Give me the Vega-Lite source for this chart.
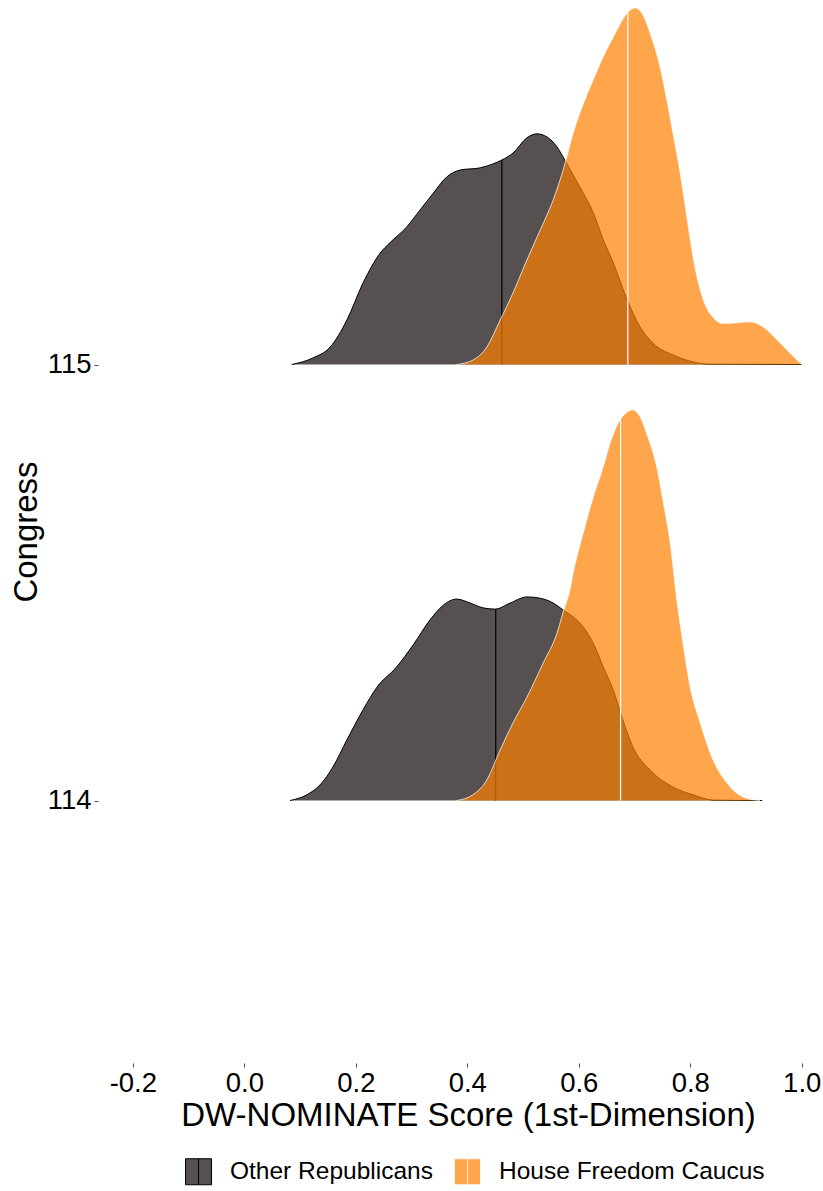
{
  "$schema": "https://vega.github.io/schema/vega-lite/v6.json",
  "width": 717,
  "height": 1063,
  "autosize": {"type": "none"},
  "padding": {"left": 98, "top": 0, "right": 8, "bottom": 128},
  "background": "white",
  "config": {
    "view": {"stroke": null},
    "font": "Liberation Sans",
    "locale": {"number": {"decimal": ".", "thousands": ",", "grouping": [3], "currency": ["$", ""], "minus": "-"}},
    "legend": {
      "title": null,
      "orient": "none",
      "legendX": 87,
      "legendY": 1158,
      "direction": "horizontal",
      "symbolType": "M-1,-1H1V1H-1ZM0,-1V1",
      "symbolSize": 676,
      "symbolStrokeWidth": 1,
      "labelFontSize": 24.5,
      "labelColor": "#000000",
      "labelOffset": 18,
      "columnPadding": 19,
      "padding": 0,
      "labelLimit": 500
    }
  },
  "datasets": {
    "dens": [
      {"c": 115, "g": "Other Republicans", "x": 0.085, "top": 115.000},
      {"c": 115, "g": "Other Republicans", "x": 0.123, "top": 115.015},
      {"c": 115, "g": "Other Republicans", "x": 0.154, "top": 115.040},
      {"c": 115, "g": "Other Republicans", "x": 0.184, "top": 115.102},
      {"c": 115, "g": "Other Republicans", "x": 0.213, "top": 115.187},
      {"c": 115, "g": "Other Republicans", "x": 0.244, "top": 115.256},
      {"c": 115, "g": "Other Republicans", "x": 0.261, "top": 115.279},
      {"c": 115, "g": "Other Republicans", "x": 0.291, "top": 115.315},
      {"c": 115, "g": "Other Republicans", "x": 0.315, "top": 115.354},
      {"c": 115, "g": "Other Republicans", "x": 0.339, "top": 115.393},
      {"c": 115, "g": "Other Republicans", "x": 0.363, "top": 115.430},
      {"c": 115, "g": "Other Republicans", "x": 0.387, "top": 115.446},
      {"c": 115, "g": "Other Republicans", "x": 0.423, "top": 115.451},
      {"c": 115, "g": "Other Republicans", "x": 0.446, "top": 115.460},
      {"c": 115, "g": "Other Republicans", "x": 0.462, "top": 115.469},
      {"c": 115, "g": "Other Republicans", "x": 0.482, "top": 115.485},
      {"c": 115, "g": "Other Republicans", "x": 0.507, "top": 115.520},
      {"c": 115, "g": "Other Republicans", "x": 0.525, "top": 115.529},
      {"c": 115, "g": "Other Republicans", "x": 0.543, "top": 115.522},
      {"c": 115, "g": "Other Republicans", "x": 0.561, "top": 115.499},
      {"c": 115, "g": "Other Republicans", "x": 0.575, "top": 115.469},
      {"c": 115, "g": "Other Republicans", "x": 0.602, "top": 115.407},
      {"c": 115, "g": "Other Republicans", "x": 0.626, "top": 115.348},
      {"c": 115, "g": "Other Republicans", "x": 0.644, "top": 115.286},
      {"c": 115, "g": "Other Republicans", "x": 0.662, "top": 115.233},
      {"c": 115, "g": "Other Republicans", "x": 0.687, "top": 115.148},
      {"c": 115, "g": "Other Republicans", "x": 0.710, "top": 115.086},
      {"c": 115, "g": "Other Republicans", "x": 0.733, "top": 115.049},
      {"c": 115, "g": "Other Republicans", "x": 0.769, "top": 115.022},
      {"c": 115, "g": "Other Republicans", "x": 0.805, "top": 115.006},
      {"c": 115, "g": "Other Republicans", "x": 0.832, "top": 115.001},
      {"c": 115, "g": "Other Republicans", "x": 0.900, "top": 115.0005},
      {"c": 115, "g": "Other Republicans", "x": 1.000, "top": 115.000},
      {"c": 115, "g": "House Freedom Caucus", "x": 0.381, "top": 115.000},
      {"c": 115, "g": "House Freedom Caucus", "x": 0.410, "top": 115.010},
      {"c": 115, "g": "House Freedom Caucus", "x": 0.435, "top": 115.040},
      {"c": 115, "g": "House Freedom Caucus", "x": 0.459, "top": 115.102},
      {"c": 115, "g": "House Freedom Caucus", "x": 0.482, "top": 115.164},
      {"c": 115, "g": "House Freedom Caucus", "x": 0.507, "top": 115.240},
      {"c": 115, "g": "House Freedom Caucus", "x": 0.531, "top": 115.309},
      {"c": 115, "g": "House Freedom Caucus", "x": 0.554, "top": 115.377},
      {"c": 115, "g": "House Freedom Caucus", "x": 0.572, "top": 115.446},
      {"c": 115, "g": "House Freedom Caucus", "x": 0.590, "top": 115.531},
      {"c": 115, "g": "House Freedom Caucus", "x": 0.611, "top": 115.607},
      {"c": 115, "g": "House Freedom Caucus", "x": 0.626, "top": 115.653},
      {"c": 115, "g": "House Freedom Caucus", "x": 0.641, "top": 115.698},
      {"c": 115, "g": "House Freedom Caucus", "x": 0.662, "top": 115.751},
      {"c": 115, "g": "House Freedom Caucus", "x": 0.687, "top": 115.806},
      {"c": 115, "g": "House Freedom Caucus", "x": 0.701, "top": 115.818},
      {"c": 115, "g": "House Freedom Caucus", "x": 0.715, "top": 115.802},
      {"c": 115, "g": "House Freedom Caucus", "x": 0.728, "top": 115.760},
      {"c": 115, "g": "House Freedom Caucus", "x": 0.746, "top": 115.682},
      {"c": 115, "g": "House Freedom Caucus", "x": 0.758, "top": 115.607},
      {"c": 115, "g": "House Freedom Caucus", "x": 0.769, "top": 115.531},
      {"c": 115, "g": "House Freedom Caucus", "x": 0.782, "top": 115.439},
      {"c": 115, "g": "House Freedom Caucus", "x": 0.794, "top": 115.338},
      {"c": 115, "g": "House Freedom Caucus", "x": 0.805, "top": 115.247},
      {"c": 115, "g": "House Freedom Caucus", "x": 0.823, "top": 115.150},
      {"c": 115, "g": "House Freedom Caucus", "x": 0.841, "top": 115.108},
      {"c": 115, "g": "House Freedom Caucus", "x": 0.859, "top": 115.094},
      {"c": 115, "g": "House Freedom Caucus", "x": 0.884, "top": 115.096},
      {"c": 115, "g": "House Freedom Caucus", "x": 0.907, "top": 115.098},
      {"c": 115, "g": "House Freedom Caucus", "x": 0.931, "top": 115.086},
      {"c": 115, "g": "House Freedom Caucus", "x": 0.956, "top": 115.056},
      {"c": 115, "g": "House Freedom Caucus", "x": 0.979, "top": 115.026},
      {"c": 115, "g": "House Freedom Caucus", "x": 1.000, "top": 115.000},
      {"c": 114, "g": "Other Republicans", "x": 0.082, "top": 114.000},
      {"c": 114, "g": "Other Republicans", "x": 0.112, "top": 114.013},
      {"c": 114, "g": "Other Republicans", "x": 0.136, "top": 114.036},
      {"c": 114, "g": "Other Republicans", "x": 0.159, "top": 114.077},
      {"c": 114, "g": "Other Republicans", "x": 0.184, "top": 114.139},
      {"c": 114, "g": "Other Republicans", "x": 0.213, "top": 114.208},
      {"c": 114, "g": "Other Republicans", "x": 0.238, "top": 114.260},
      {"c": 114, "g": "Other Republicans", "x": 0.273, "top": 114.306},
      {"c": 114, "g": "Other Republicans", "x": 0.303, "top": 114.357},
      {"c": 114, "g": "Other Republicans", "x": 0.333, "top": 114.414},
      {"c": 114, "g": "Other Republicans", "x": 0.357, "top": 114.448},
      {"c": 114, "g": "Other Republicans", "x": 0.381, "top": 114.462},
      {"c": 114, "g": "Other Republicans", "x": 0.405, "top": 114.453},
      {"c": 114, "g": "Other Republicans", "x": 0.428, "top": 114.442},
      {"c": 114, "g": "Other Republicans", "x": 0.450, "top": 114.439},
      {"c": 114, "g": "Other Republicans", "x": 0.477, "top": 114.453},
      {"c": 114, "g": "Other Republicans", "x": 0.507, "top": 114.467},
      {"c": 114, "g": "Other Republicans", "x": 0.531, "top": 114.464},
      {"c": 114, "g": "Other Republicans", "x": 0.554, "top": 114.453},
      {"c": 114, "g": "Other Republicans", "x": 0.572, "top": 114.437},
      {"c": 114, "g": "Other Republicans", "x": 0.590, "top": 114.421},
      {"c": 114, "g": "Other Republicans", "x": 0.608, "top": 114.398},
      {"c": 114, "g": "Other Republicans", "x": 0.626, "top": 114.361},
      {"c": 114, "g": "Other Republicans", "x": 0.644, "top": 114.306},
      {"c": 114, "g": "Other Republicans", "x": 0.662, "top": 114.253},
      {"c": 114, "g": "Other Republicans", "x": 0.679, "top": 114.185},
      {"c": 114, "g": "Other Republicans", "x": 0.697, "top": 114.123},
      {"c": 114, "g": "Other Republicans", "x": 0.728, "top": 114.070},
      {"c": 114, "g": "Other Republicans", "x": 0.769, "top": 114.031},
      {"c": 114, "g": "Other Republicans", "x": 0.805, "top": 114.013},
      {"c": 114, "g": "Other Republicans", "x": 0.841, "top": 114.001},
      {"c": 114, "g": "Other Republicans", "x": 0.929, "top": 114.000},
      {"c": 114, "g": "House Freedom Caucus", "x": 0.381, "top": 114.000},
      {"c": 114, "g": "House Freedom Caucus", "x": 0.410, "top": 114.013},
      {"c": 114, "g": "House Freedom Caucus", "x": 0.435, "top": 114.047},
      {"c": 114, "g": "House Freedom Caucus", "x": 0.459, "top": 114.116},
      {"c": 114, "g": "House Freedom Caucus", "x": 0.482, "top": 114.178},
      {"c": 114, "g": "House Freedom Caucus", "x": 0.507, "top": 114.237},
      {"c": 114, "g": "House Freedom Caucus", "x": 0.536, "top": 114.315},
      {"c": 114, "g": "House Freedom Caucus", "x": 0.561, "top": 114.384},
      {"c": 114, "g": "House Freedom Caucus", "x": 0.572, "top": 114.432},
      {"c": 114, "g": "House Freedom Caucus", "x": 0.584, "top": 114.483},
      {"c": 114, "g": "House Freedom Caucus", "x": 0.590, "top": 114.522},
      {"c": 114, "g": "House Freedom Caucus", "x": 0.608, "top": 114.614},
      {"c": 114, "g": "House Freedom Caucus", "x": 0.626, "top": 114.696},
      {"c": 114, "g": "House Freedom Caucus", "x": 0.642, "top": 114.758},
      {"c": 114, "g": "House Freedom Caucus", "x": 0.660, "top": 114.834},
      {"c": 114, "g": "House Freedom Caucus", "x": 0.674, "top": 114.873},
      {"c": 114, "g": "House Freedom Caucus", "x": 0.687, "top": 114.891},
      {"c": 114, "g": "House Freedom Caucus", "x": 0.696, "top": 114.896},
      {"c": 114, "g": "House Freedom Caucus", "x": 0.710, "top": 114.880},
      {"c": 114, "g": "House Freedom Caucus", "x": 0.724, "top": 114.834},
      {"c": 114, "g": "House Freedom Caucus", "x": 0.740, "top": 114.765},
      {"c": 114, "g": "House Freedom Caucus", "x": 0.751, "top": 114.689},
      {"c": 114, "g": "House Freedom Caucus", "x": 0.764, "top": 114.591},
      {"c": 114, "g": "House Freedom Caucus", "x": 0.776, "top": 114.460},
      {"c": 114, "g": "House Freedom Caucus", "x": 0.787, "top": 114.361},
      {"c": 114, "g": "House Freedom Caucus", "x": 0.800, "top": 114.260},
      {"c": 114, "g": "House Freedom Caucus", "x": 0.818, "top": 114.178},
      {"c": 114, "g": "House Freedom Caucus", "x": 0.841, "top": 114.093},
      {"c": 114, "g": "House Freedom Caucus", "x": 0.866, "top": 114.040},
      {"c": 114, "g": "House Freedom Caucus", "x": 0.895, "top": 114.008},
      {"c": 114, "g": "House Freedom Caucus", "x": 0.925, "top": 114.000}
    ],
    "med": [
      {"c": 115, "g": "Other Republicans", "x": 0.462, "top": 115.469},
      {"c": 115, "g": "House Freedom Caucus", "x": 0.688, "top": 115.806},
      {"c": 114, "g": "Other Republicans", "x": 0.451, "top": 114.439},
      {"c": 114, "g": "House Freedom Caucus", "x": 0.675, "top": 114.873}
    ]
  },
  "encoding": {
    "x": {
      "field": "x",
      "type": "quantitative",
      "scale": {"domain": [-0.2625, 1.0238], "nice": false, "zero": false},
      "axis": {
        "values": [-0.2, 0, 0.2, 0.4, 0.6, 0.8, 1.0],
        "format": ".1f",
        "title": "DW-NOMINATE Score (1st-Dimension)",
        "grid": false,
        "domain": false,
        "tickSize": 4,
        "tickColor": "#555555",
        "labelFontSize": 27.5,
        "labelColor": "#000000",
        "labelPadding": 2,
        "labelFlush": false,
        "labelOverlap": false,
        "titleFontSize": 33,
        "titleFontWeight": "normal",
        "titleColor": "#000000",
        "titlePadding": 3,
        "titleX": 370
      }
    },
    "y": {
      "field": "top",
      "type": "quantitative",
      "scale": {"domain": [113.398, 115.836], "nice": false, "zero": false},
      "axis": {
        "values": [114, 115],
        "format": "d",
        "title": "Congress",
        "grid": false,
        "domain": false,
        "tickSize": 4,
        "tickColor": "#555555",
        "labelFontSize": 27.5,
        "labelColor": "#000000",
        "labelPadding": 3,
        "labelFlush": false,
        "labelOverlap": false,
        "titleFontSize": 33,
        "titleFontWeight": "normal",
        "titleColor": "#000000",
        "titlePadding": 4
      }
    }
  },
  "layer": [
    {
      "data": {"name": "dens"},
      "transform": [{"filter": "datum.g === 'Other Republicans'"}],
      "mark": {"type": "area", "interpolate": "monotone", "strokeWidth": 0},
      "encoding": {
        "y2": {"field": "c"},
        "detail": {"field": "c", "type": "nominal"},
        "fill": {
          "field": "g",
          "type": "nominal",
          "scale": {"domain": ["Other Republicans", "House Freedom Caucus"], "range": ["#565050", "#FF7F00"]},
          "legend": {
            "encode": {
              "symbols": {
                "update": {
                  "fillOpacity": {"signal": "datum.value === 'House Freedom Caucus' ? 0.7 : 1"},
                  "strokeOpacity": {"signal": "datum.value === 'House Freedom Caucus' ? 0.8 : 1"}
                }
              }
            }
          }
        },
        "fillOpacity": {"field": "g", "type": "nominal", "scale": {"domain": ["Other Republicans", "House Freedom Caucus"], "range": [1, 0.7]}, "legend": null},
        "stroke": {"field": "g", "type": "nominal", "scale": {"domain": ["Other Republicans", "House Freedom Caucus"], "range": ["#000000", "#FFFFFF"]}}
      }
    },
    {
      "data": {"name": "dens"},
      "transform": [{"filter": "datum.g === 'Other Republicans'"}],
      "mark": {"type": "line", "interpolate": "monotone", "strokeWidth": 1},
      "encoding": {
        "detail": {"field": "c", "type": "nominal"},
        "stroke": {"field": "g", "type": "nominal"}
      }
    },
    {
      "data": {"name": "med"},
      "transform": [{"filter": "datum.g === 'Other Republicans'"}],
      "mark": {"type": "rule", "strokeWidth": 1.2},
      "encoding": {
        "y": {"field": "c", "type": "quantitative"},
        "y2": {"field": "top"},
        "stroke": {"field": "g", "type": "nominal"}
      }
    },
    {
      "data": {"name": "dens"},
      "transform": [{"filter": "datum.g === 'House Freedom Caucus'"}],
      "mark": {"type": "area", "interpolate": "monotone", "strokeWidth": 0},
      "encoding": {
        "y2": {"field": "c"},
        "detail": {"field": "c", "type": "nominal"},
        "fill": {"field": "g", "type": "nominal"},
        "fillOpacity": {"field": "g", "type": "nominal", "legend": null},
        "stroke": {"field": "g", "type": "nominal"}
      }
    },
    {
      "data": {"name": "dens"},
      "transform": [{"filter": "datum.g === 'House Freedom Caucus'"}],
      "mark": {"type": "line", "interpolate": "monotone", "strokeWidth": 1, "strokeOpacity": 0.75},
      "encoding": {
        "detail": {"field": "c", "type": "nominal"},
        "stroke": {"field": "g", "type": "nominal"}
      }
    },
    {
      "data": {"name": "med"},
      "transform": [{"filter": "datum.g === 'House Freedom Caucus'"}],
      "mark": {"type": "rule", "strokeWidth": 1.2},
      "encoding": {
        "y": {"field": "c", "type": "quantitative"},
        "y2": {"field": "top"},
        "stroke": {"field": "g", "type": "nominal"}
      }
    }
  ]
}
